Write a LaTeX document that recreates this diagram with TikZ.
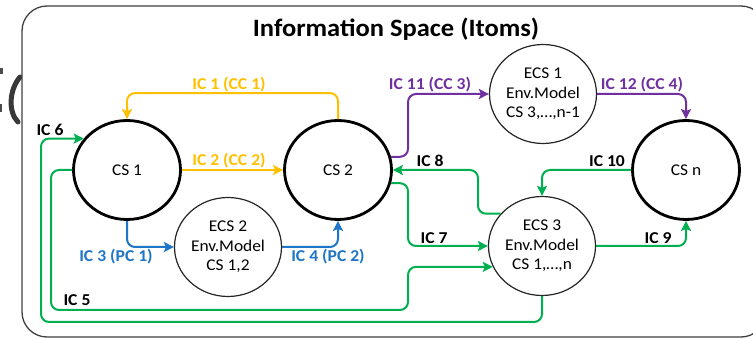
\documentclass[tikz,border=0pt]{standalone}
\usepackage{fontspec}
\setmainfont[FakeStretch=1.06]{Carlito}
\usetikzlibrary{arrows.meta,shapes.geometric,calc}

\definecolor{icyellow}{HTML}{FFC000}
\definecolor{icblue}{RGB}{30,118,200}
\definecolor{icpurple}{HTML}{7030A0}
\definecolor{icgreen}{HTML}{00B050}
\definecolor{framegray}{HTML}{404040}

\newcommand{\csfont}{\fontsize{16.4}{19.5}\selectfont}
\newcommand{\icfont}{\fontsize{16.6}{19}\selectfont\bfseries}

\begin{document}
\begin{tikzpicture}[x=1pt,y=-1pt,
  csnode/.style={ellipse, draw=black, line width=2.8pt, minimum width=107pt,
    minimum height=99pt, inner sep=0pt, font=\csfont},
  ecsnode/.style={ellipse, draw=black!85, line width=1.2pt, minimum width=107pt,
    minimum height=99pt, inner sep=0pt, align=center, font=\csfont},
  conn/.style={line width=2pt, rounded corners=8pt,
    -{Stealth[length=10pt,width=10pt,inset=2pt]}},
  lab/.style={font=\icfont, inner sep=0pt},
]
\useasboundingbox (0,0) rectangle (753,339);
\clip (0,0) rectangle (753,339);

% stray glyph fragment at the far left
\draw[line width=5pt, black!78, line cap=round] (20,77) .. controls (9,90) and (8,112) .. (18,122);
\fill[black!70] (0,68) rectangle (3,74);
\fill[black!70] (0,104) rectangle (2,112);

% outer frame
\draw[framegray, line width=1.3pt, rounded corners=25pt, fill=white] (22,6) rectangle (766,337);
\node[font=\fontsize{25}{28}\selectfont\bfseries, inner sep=0pt] (title) at (396,29) {Information Space (Itoms)};

% systems
\node[csnode] (cs1) at (127,170) {CS 1};
\node[csnode] (cs2) at (338,170) {CS 2};
\node[csnode] (csn) at (686,170) {CS n};
\node[ecsnode] (ecs1) at (543,94) {ECS 1\\Env.Model\\CS 3,…,n-1};
\node[ecsnode] (ecs2) at (228,247) {ECS 2\\Env.Model\\CS 1,2};
\node[ecsnode] (ecs3) at (542,246) {ECS 3\\Env.Model\\CS 1,…,n};

% lane coordinates
\coordinate (laneL) at (51,310);
\coordinate (laneO) at (41,322);
\coordinate (laneR) at (408,310);
\coordinate (laneE) at (478,170);

% yellow connectors
\draw[conn, icyellow] (cs2.north) -- ++(0,-26) -| (cs1.north);
\draw[conn, icyellow] (cs1.east) -- (cs2.west);
% blue connectors
\draw[conn, icblue] (cs1.south) |- (ecs2.west);
\draw[conn, icblue] (ecs2.east) -| (cs2.south);
% purple connectors
\draw[conn, icpurple] (cs2.14) -- ++(17,0) |- (ecs1.west);
\draw[conn, icpurple] (ecs1.east) -| (csn.north);
% green connectors
\draw[conn, icgreen] (cs2.-14) -- ++(17,0) |- (ecs3.west);
\draw[conn, icgreen] (ecs3.142) -| (laneE) -- (cs2.east);
\draw[conn, icgreen] (csn.west) -| (ecs3.north);
\draw[conn, icgreen] (ecs3.east) -| (csn.south);
\draw[conn, icgreen] (cs1.west) -| (laneL) -- (laneR) |- (ecs3.203);
\draw[conn, icgreen] (ecs3.south) |- (laneO) |- (cs1.144);

% connector labels
\node[lab, text=icyellow] (l1) at (229,85) {IC 1 (CC 1)};
\node[lab, text=icyellow] (l2) at (229,161) {IC 2 (CC 2)};
\node[lab, text=icblue] (l3) at (116,257) {IC 3 (PC 1)};
\node[lab, text=icblue] (l4) at (328,257) {IC 4 (PC 2)};
\node[lab, text=icpurple] (l11) at (430,85) {IC 11 (CC 3)};
\node[lab, text=icpurple] (l12) at (642,85) {IC 12 (CC 4)};
\node[lab] (l5) at (77,300) {IC 5};
\node[lab] (l6) at (50,130) {IC 6};
\node[lab] (l7) at (434,238) {IC 7};
\node[lab] (l8) at (430,161) {IC 8};
\node[lab] (l9) at (658,238) {IC 9};
\node[lab] (l10) at (607,161) {IC 10};
\end{tikzpicture}
\end{document}
